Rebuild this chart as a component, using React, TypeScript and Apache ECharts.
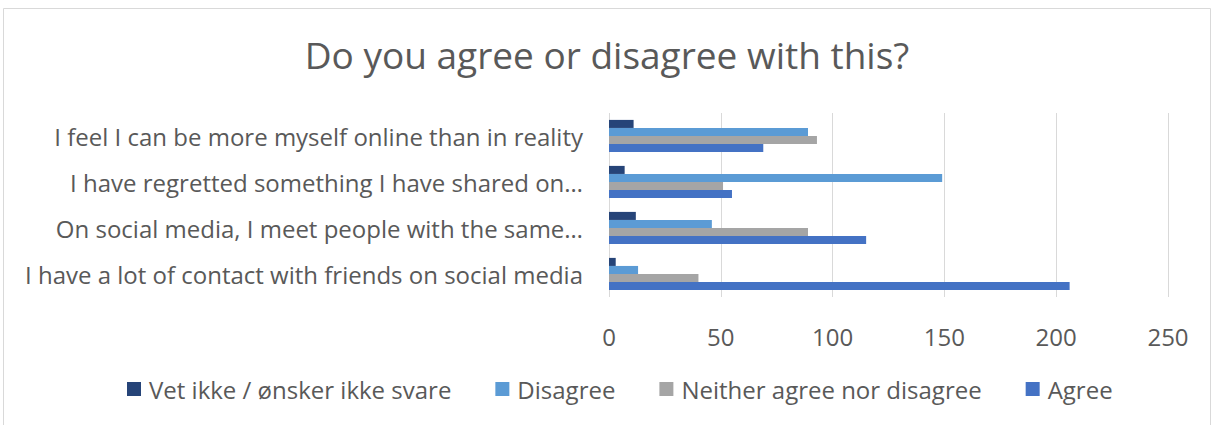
import React, { useEffect, useRef } from "react";
import * as echarts from "echarts";

// Categories listed bottom-to-top (as drawn on the y axis)
const categories = [
  "I have a lot of contact with friends on social media",
  "On social media, I meet people with the same…",
  "I have regretted something I have shared on…",
  "I feel I can be more myself online than in reality",
];

const seriesNames = [
  "Vet ikke / ønsker ikke svare",
  "Disagree",
  "Neither agree nor disagree",
  "Agree",
];

// values per category, bottom-to-top order
const vetIkke = [3, 12, 7, 11];
const disagree = [13, 46, 149, 89];
const neither = [40, 89, 51, 93];
const agree = [206, 115, 55, 69];

const xTicks = { min: 0, max: 250, interval: 50 };

const colors: Record<string, string> = {
  "Vet ikke / ønsker ikke svare": "#264478",
  Disagree: "#5b9bd5",
  "Neither agree nor disagree": "#a5a5a5",
  Agree: "#4472c4",
};

export default function App() {
  const ref = useRef<HTMLDivElement>(null);
  useEffect(() => {
    if (!ref.current) return;
    const chart = echarts.init(ref.current, undefined, { renderer: "svg" });
    const font = "'Open Sans', 'Noto Sans', sans-serif";
    const txt = "#595959";
    const order = [
      { name: seriesNames[0], data: vetIkke },
      { name: seriesNames[1], data: disagree },
      { name: seriesNames[2], data: neither },
      { name: seriesNames[3], data: agree },
    ];
    chart.setOption({
      animation: false,
      backgroundColor: "#ffffff",
      textStyle: { fontFamily: font },
      title: {
        text: "Do you agree or disagree with this?",
        left: "center",
        top: 31,
        textStyle: { fontFamily: font, fontSize: 37, fontWeight: "normal", color: txt },
      },
      graphic: [
        {
          type: "rect",
          shape: { x: 3.5, y: 8.5, width: 1207, height: 440 },
          style: { fill: "none", stroke: "#d9d9d9", lineWidth: 1 },
          silent: true,
          z: -1,
        },
      ],
      legend: {
        data: seriesNames,
        left: 122,
        top: 372,
        icon: "rect",
        itemWidth: 14,
        itemHeight: 14,
        itemGap: 44,
        textStyle: { fontFamily: font, fontSize: 24, color: txt, padding: [0, 0, 0, 3] },
      },
      grid: { left: 609, right: 46, top: 113, bottom: 128, containLabel: false },
      xAxis: {
        type: "value",
        min: xTicks.min,
        max: xTicks.max,
        interval: xTicks.interval,
        axisLine: { show: false },
        axisTick: { show: false },
        splitLine: { show: true, lineStyle: { color: "#d9d9d9", width: 1 } },
        axisLabel: { fontFamily: font, fontSize: 24, color: txt, margin: 27 },
      },
      yAxis: {
        type: "category",
        data: categories,
        axisLine: { show: false },
        axisTick: { show: false },
        axisLabel: { fontFamily: font, fontSize: 24, color: txt, margin: 26 },
      },
      series: order.map((s) => ({
        name: s.name,
        type: "bar",
        data: s.data,
        barGap: "0%",
        barCategoryGap: "30%",
        itemStyle: { color: colors[s.name] },
      })),
    });
    return () => chart.dispose();
  }, []);
  return (
    <div
      ref={ref}
      style={{ position: "fixed", left: 0, top: 0, width: 1214, height: 425, background: "#fff" }}
    />
  );
}
